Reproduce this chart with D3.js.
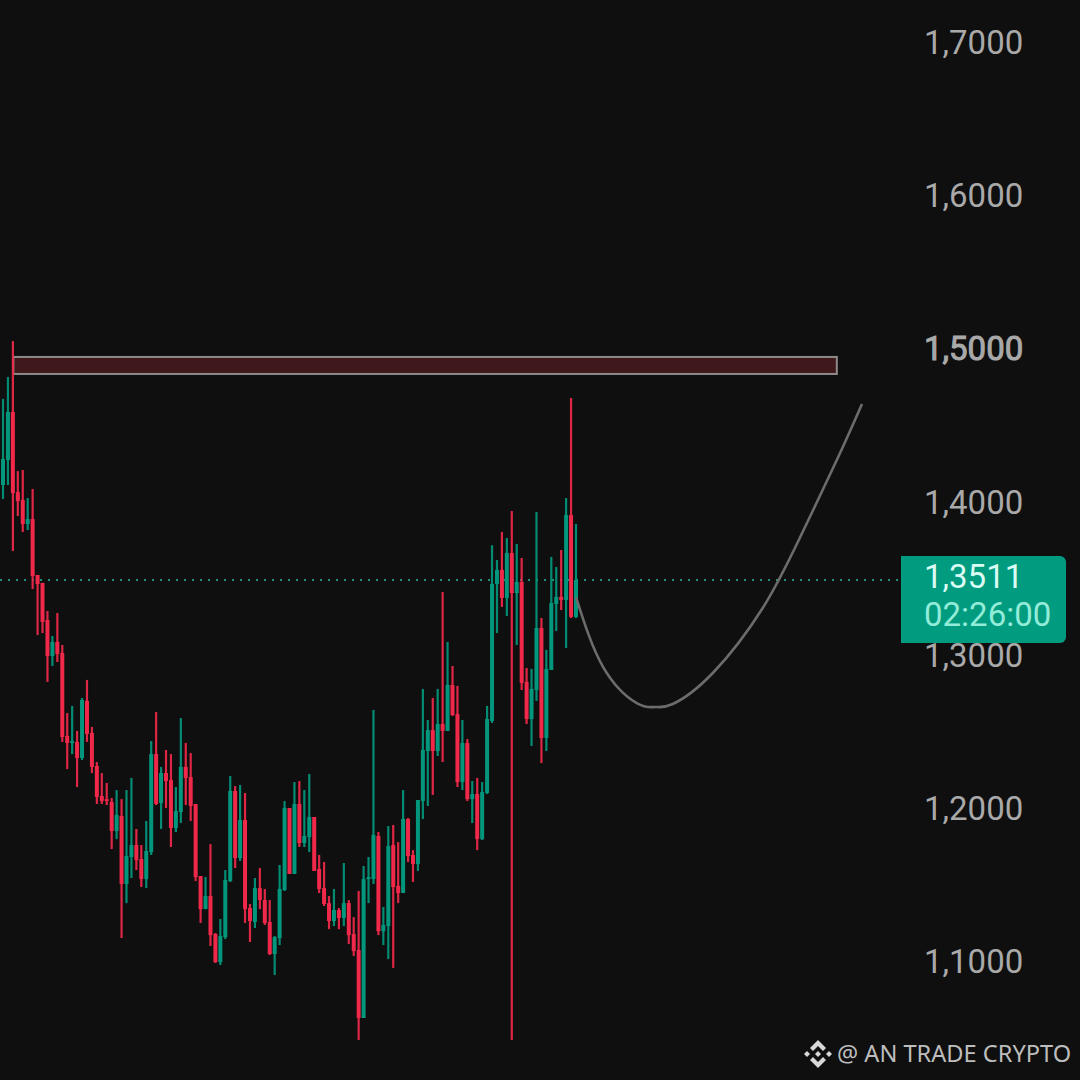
<!DOCTYPE html>
<html lang="en">
  <head>
    <meta charset="UTF-8" />
    <title>Candlestick chart</title>
    <script src="https://d3js.org/d3.v7.min.js"></script>
    <style>
      html, body { margin: 0; background: #0f0f0f; }
      svg { display: block; }
    </style>
  </head>
  <body>
    <svg width="1080" height="1080"></svg>
    <script>
      // Candles, left to right
      const opens = [
        1.4131,1.4294,1.4608,1.4085,1.4033,1.3876,1.3909,1.3544,1.3492,1.3250,
        1.3015,1.3107,1.3035,1.2493,1.2447,1.2454,1.2349,1.2722,1.2513,1.2297,
        1.2101,1.2081,1.2062,1.1873,1.1971,1.1527,1.1703,1.1781,1.1690,1.1559,
        1.1735,1.2375,1.2055,1.2251,1.2206,1.1892,1.1997,1.2291,1.2225,1.2049,
        1.1579,1.1363,1.1448,1.1200,1.1017,1.1180,1.1546,1.2134,1.1696,1.1944,
        1.1370,1.1279,1.1500,1.1422,1.1279,1.1070,1.1174,1.1487,1.2023,1.1592,
        1.2049,1.1794,1.1833,1.1964,1.1625,1.1500,1.1402,1.1285,1.1357,1.1305,
        1.1402,1.1200,1.1096,1.0652,1.1559,1.1559,1.1840,1.1219,1.1252,1.1781,
        1.1514,1.1468,1.1951,1.1716,1.1657,1.2068,1.2395,1.2532,1.2395,1.2571,
        1.2526,1.2826,1.2636,1.2192,1.2447,1.2081,1.2114,1.1820,1.2121,1.2591,
        1.3485,1.3577,1.3394,1.3687,1.3426,1.3498,1.2846,1.2604,1.2793,1.3198,
        1.2480,1.2924,1.3355,1.3401,1.3381,1.3935,1.3270,
      ];
      const closes = [
        1.4301,1.4608,1.4079,1.4026,1.3876,1.3909,1.3537,1.3485,1.3237,1.3015,
        1.3107,1.3028,1.2486,1.2447,1.2460,1.2349,1.2728,1.2506,1.2291,1.2095,
        1.2068,1.2068,1.1873,1.1977,1.1527,1.1709,1.1781,1.1683,1.1559,1.1742,
        1.2375,1.2049,1.2251,1.2199,1.1892,1.2003,1.2291,1.2219,1.2036,1.1572,
        1.1363,1.1448,1.1193,1.1017,1.1187,1.1553,1.2134,1.1696,1.1944,1.1363,
        1.1285,1.1500,1.1422,1.1272,1.1070,1.1180,1.1494,1.2023,1.1592,1.2049,
        1.1794,1.1840,1.1964,1.1612,1.1494,1.1396,1.1285,1.1357,1.1305,1.1402,
        1.1193,1.1089,1.0652,1.1559,1.1572,1.1847,1.1219,1.1259,1.1774,1.1507,
        1.1468,1.1951,1.1709,1.1657,1.2075,1.2402,1.2532,1.2395,1.2571,1.2526,
        1.2826,1.2630,1.2192,1.2447,1.2081,1.2114,1.1820,1.2127,1.2604,1.3485,
        1.3577,1.3394,1.3687,1.3426,1.3498,1.2839,1.2604,1.2800,1.3198,1.2480,
        1.2931,1.3361,1.3401,1.3381,1.3935,1.3270,1.3511,
      ];
      const highs = [
        1.4693,1.4836,1.5071,1.4222,1.4229,1.4046,1.4105,1.3544,1.3492,1.3309,
        1.3146,1.3296,1.3087,1.2643,1.2689,1.2526,1.2741,1.2859,1.2552,1.2323,
        1.2251,1.2186,1.2088,1.2140,1.2081,1.2140,1.2219,1.1886,1.1781,1.1938,
        1.2460,1.2649,1.2291,1.2402,1.2375,1.2160,1.2610,1.2447,1.2382,1.2049,
        1.1579,1.1572,1.1787,1.1207,1.1298,1.1618,1.2232,1.2166,1.2173,1.2121,
        1.1396,1.1566,1.1631,1.1494,1.1422,1.1187,1.1651,1.2068,1.2023,1.2192,
        1.2199,1.2140,1.2245,1.1964,1.1716,1.1670,1.1448,1.1494,1.1370,1.1664,
        1.1422,1.1311,1.1481,1.1644,1.1703,1.2663,1.1866,1.1376,1.1905,1.1912,
        1.1800,1.2140,1.1957,1.1748,1.2075,1.2800,1.2597,1.2741,1.2800,1.3433,
        1.3107,1.2950,1.2820,1.2597,1.2473,1.2199,1.2219,1.2192,1.2689,1.3738,
        1.3642,1.3824,1.3785,1.3961,1.3746,1.3655,1.2937,1.2931,1.3955,1.3263,
        1.3055,1.3662,1.3596,1.3707,1.4046,1.4699,1.3876,
      ];
      const lows = [
        1.4040,1.4131,1.3700,1.3929,1.3824,1.3837,1.3452,1.3152,1.3165,1.2846,
        1.2950,1.2976,1.2454,1.2277,1.2375,1.2160,1.2336,1.2454,1.2251,1.2049,
        1.2049,1.2042,1.1755,1.1820,1.1174,1.1402,1.1566,1.1618,1.1507,1.1500,
        1.1716,1.2042,1.1886,1.2023,1.1768,1.1866,1.1925,1.2042,1.1938,1.1546,
        1.1272,1.1363,1.1122,1.1011,1.0998,1.1167,1.1540,1.1631,1.1677,1.1272,
        1.1148,1.1239,1.1363,1.1259,1.1063,1.0933,1.1128,1.1481,1.1592,1.1592,
        1.1768,1.1768,1.1735,1.1612,1.1468,1.1383,1.1232,1.1252,1.1232,1.1252,
        1.1135,1.1057,1.0509,1.0652,1.1402,1.1527,1.1193,1.1128,1.1037,1.0979,
        1.1402,1.1468,1.1670,1.1540,1.1612,1.1951,1.2036,1.2108,1.2362,1.2323,
        1.2526,1.2623,1.2160,1.2140,1.2068,1.1925,1.1748,1.1814,1.2114,1.2578,
        1.3165,1.3335,1.3276,1.0509,1.3087,1.2793,1.2571,1.2428,1.2722,1.2316,
        1.2395,1.2924,1.3178,1.3315,1.3067,1.3263,1.3263,
      ];
      const candles = opens.map((o, i) => ({ i, o, c: closes[i], h: highs[i], l: lows[i] }));

      // Projected path, in candle index and price
      const pathIndex = [116, 121.5, 128.3, 132, 135.6, 143.7, 153.8, 161.3, 168.8, 173.9];
      const pathPrice = [1.34, 1.2943, 1.2708, 1.2682, 1.2702, 1.2904, 1.3328, 1.3785, 1.4294, 1.466];

      // Resistance zone, last price, axis
      const zonePrices = [1.4967, 1.4856];
      const zoneIndex = [2.1, 168.8];
      const lastPrice = 1.3511;
      const lastLabel = "1,3511";
      const countdown = "02:26:00";
      const tickValues = [1.7, 1.6, 1.5, 1.4, 1.3, 1.2, 1.1];
      const tickLabels = ["1,7000", "1,6000", "1,5000", "1,4000", "1,3000", "1,2000", "1,1000"];
      const boldTick = 1.5;

      const RED = "#f0284a";
      const GREEN = "#02977d";
      const font = "Roboto, sans-serif";

      const svg = d3.select("svg");
      const x = d3.scaleLinear().domain([0, 116]).range([3, 576]);
      const y = d3.scaleLinear().domain([1.7, 1.1]).range([45.5, 964.7]);

      // Dotted last price line
      svg
        .append("line")
        .attr("x1", 0)
        .attr("x2", 901)
        .attr("y1", y(lastPrice))
        .attr("y2", y(lastPrice))
        .style("stroke", "#21907c")
        .style("stroke-width", 2)
        .style("stroke-dasharray", "2 6");

      // Zone
      svg
        .append("rect")
        .attr("x", x(zoneIndex[0]))
        .attr("y", y(zonePrices[0]))
        .attr("width", x(zoneIndex[1]) - x(zoneIndex[0]))
        .attr("height", y(zonePrices[1]) - y(zonePrices[0]))
        .style("fill", "#3f181c")
        .style("stroke", "#8f8a8a")
        .style("stroke-width", 2);

      // Candles
      const candle = svg
        .selectAll("g.candle")
        .data(candles)
        .enter()
        .append("g")
        .attr("class", "candle");

      candle
        .append("line")
        .attr("x1", (d) => x(d.i))
        .attr("x2", (d) => x(d.i))
        .attr("y1", (d) => y(d.h))
        .attr("y2", (d) => y(d.l))
        .style("stroke", (d) => (d.c >= d.o ? GREEN : RED))
        .style("stroke-opacity", 0.92)
        .style("stroke-width", 2.2);

      candle
        .append("rect")
        .attr("x", (d) => x(d.i) - 2)
        .attr("y", (d) => y(Math.max(d.o, d.c)))
        .attr("width", 4)
        .attr("height", (d) => Math.max(2, Math.abs(y(d.o) - y(d.c))))
        .style("fill", (d) => (d.c >= d.o ? GREEN : RED));

      // Projected path
      const path = d3
        .line()
        .x((d) => x(d))
        .y((d, i) => y(pathPrice[i]))
        .curve(d3.curveNatural);
      svg
        .append("path")
        .attr("d", path(pathIndex))
        .style("fill", "none")
        .style("stroke", "#6c6c6c")
        .style("stroke-width", 2.6);

      // Price axis
      const axis = d3
        .axisRight(y)
        .tickValues(tickValues)
        .tickSize(0)
        .tickPadding(0)
        .tickFormat((d, i) => tickLabels[i]);
      const axisG = svg.append("g").attr("transform", "translate(924,-2.5)").call(axis);
      axisG.select(".domain").remove();
      axisG
        .selectAll("text")
        .style("font-family", font)
        .style("font-size", "33px")
        .style("fill", "#a9a9a9")
        .style("stroke", (d) => (d === boldTick ? "#a9a9a9" : "none"))
        .style("stroke-width", 1);

      // Last price label
      svg
        .append("path")
        .attr("d", "M901,556H1060a6,6 0 0 1 6,6V637a6,6 0 0 1 -6,6H901Z")
        .style("fill", "#019b80");
      svg
        .append("text")
        .attr("x", 924)
        .attr("y", 588)
        .style("font-family", font)
        .style("font-size", "33px")
        .style("fill", "#d9fbf3")
        .text(lastLabel);
      svg
        .append("text")
        .attr("x", 924)
        .attr("y", 626)
        .style("font-family", font)
        .style("font-size", "33px")
        .style("fill", "#93ecd8")
        .text(countdown);

      // Watermark
      const logo = svg.append("g").attr("transform", "translate(818,1054)").style("fill", "#d8d8d8");
      logo.append("path").attr("d", "M0,-14L8,-6L5,-3L0,-8L-5,-3L-8,-6Z");
      logo.append("path").attr("d", "M0,14L8,6L5,3L0,8L-5,3L-8,6Z");
      logo.append("path").attr("d", "M0,-3L3,0L0,3L-3,0Z");
      logo.append("path").attr("d", "M-11,-3L-8,0L-11,3L-14,0Z");
      logo.append("path").attr("d", "M11,-3L14,0L11,3L8,0Z");
      svg
        .append("text")
        .attr("x", 837)
        .attr("y", 1062)
        .style("font-family", "'Noto Sans', sans-serif")
        .style("font-size", "23.6px")
        .style("fill", "#bdbdbd")
        .text("@ AN TRADE CRYPTO");
    </script>
  </body>
</html>
